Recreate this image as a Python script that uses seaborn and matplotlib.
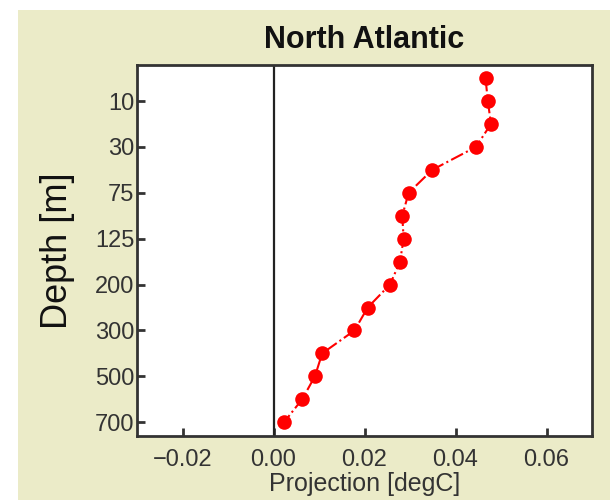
import numpy as np
import pandas as pd
import seaborn as sns
import matplotlib.pyplot as plt
from matplotlib.patches import Rectangle

# depth levels (only every other one is labelled on the axis)
depth = [5, 10, 20, 30, 50, 75, 100, 125, 150, 200, 250, 300, 400, 500, 600, 700]
depth_ticks = [10, 30, 75, 125, 200, 300, 500, 700]
proj = [0.0466, 0.0471, 0.0478, 0.0445, 0.0349, 0.0297, 0.0283, 0.0286,
        0.0278, 0.0256, 0.0207, 0.0178, 0.0107, 0.0091, 0.0063, 0.0023]
xticks = [-0.02, 0.00, 0.02, 0.04, 0.06]

df = pd.DataFrame({'level': np.arange(len(depth)), 'depth': depth, 'proj': proj})

sns.set_theme(style='white')
plt.rcParams['font.family'] = ['Liberation Sans', 'DejaVu Sans']

fig = plt.figure(figsize=(6.1, 5.0), dpi=100, facecolor='white')
# khaki panel behind the plot
fig.patches.append(Rectangle((0.03, 0.0), 0.97, 0.98, transform=fig.transFigure,
                             facecolor='#ebebc8', edgecolor='none', zorder=-1))
ax = fig.add_axes([0.2246, 0.128, 0.7459, 0.742])
ax.set_facecolor('white')

ax.axvline(0, color='#222222', lw=1.6, zorder=1)
sns.lineplot(data=df, x='proj', y='level', orient='y', sort=False, ax=ax,
             color='#ff0000', linestyle='-.', linewidth=1.5,
             marker='o', markersize=10.5, markeredgewidth=0, zorder=3)

ax.set_xlim(-0.03, 0.07)
ax.set_ylim(15.6, -0.57)
ax.set_xticks(xticks, labels=[f'{t:.2f}'.replace('-', '\u2212') for t in xticks])
lvl = [depth.index(d) for d in depth_ticks]
ax.set_yticks(lvl, labels=[str(d) for d in depth_ticks])

ax.tick_params(bottom=True, left=True, direction='in', length=6, width=2,
               color='#333333', labelsize=17, labelcolor='#333333')
ax.tick_params(axis='x', pad=9)
ax.tick_params(axis='y', pad=2)
for s in ax.spines.values():
    s.set_color('#333333')
    s.set_linewidth(2)
    s.set_visible(True)

ax.set_title('North Atlantic', fontsize=22, fontweight='bold', color='#111111', pad=12)
ax.set_ylabel('Depth [m]', fontsize=26, color='#111111', labelpad=14)
ax.set_xlabel('Projection [degC]', fontsize=18, color='#333333', labelpad=1)

fig.savefig('out.png', dpi=100, facecolor=fig.get_facecolor())
